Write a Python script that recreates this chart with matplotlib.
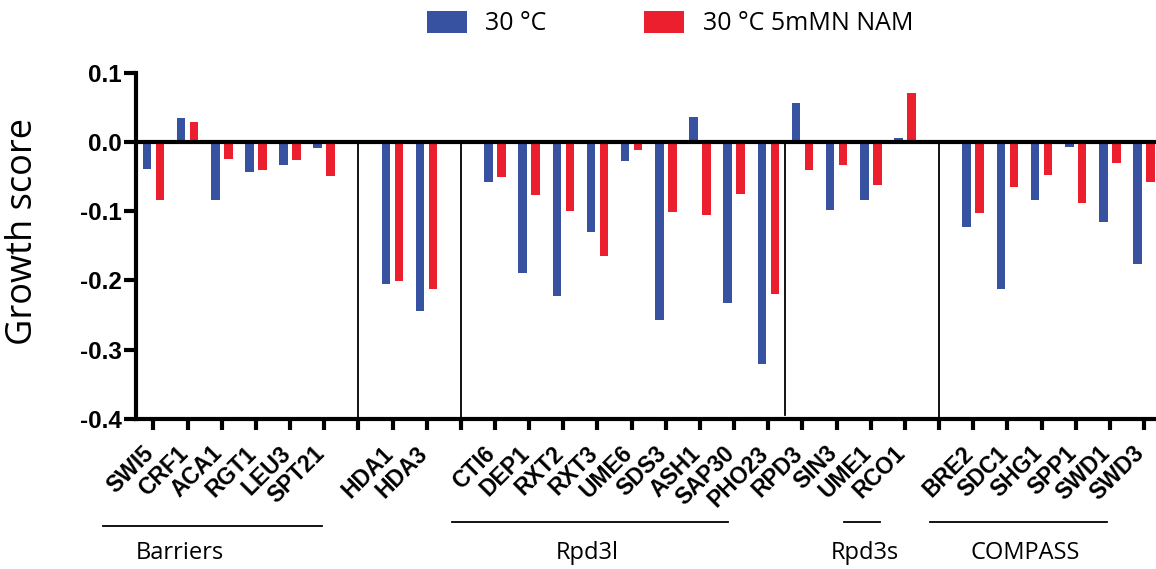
import matplotlib
matplotlib.use("Agg")
import matplotlib.pyplot as plt
from matplotlib.patches import Patch
from matplotlib.lines import Line2D
from matplotlib.transforms import ScaledTranslation
import numpy as np

# ---- data ----
categories = ["SWI5", "CRF1", "ACA1", "RGT1", "LEU3", "SPT21", "",
              "HDA1", "HDA3", "",
              "CTI6", "DEP1", "RXT2", "RXT3", "UME6", "SDS3", "ASH1", "SAP30", "PHO23",
              "RPD3", "SIN3", "UME1", "RCO1", "",
              "BRE2", "SDC1", "SHG1", "SPP1", "SWD1", "SWD3"]
score_30C = [-0.039, 0.035, -0.084, -0.043, -0.033, -0.008, np.nan,
             -0.205, -0.244, np.nan,
             -0.058, -0.189, -0.223, -0.130, -0.028, -0.257, 0.036, -0.232, -0.321,
             0.056, -0.098, -0.084, 0.006, np.nan,
             -0.123, -0.213, -0.084, -0.007, -0.115, -0.176]
score_30C_NAM = [-0.084, 0.029, -0.024, -0.040, -0.026, -0.049, np.nan,
                 -0.201, -0.213, np.nan,
                 -0.050, -0.077, -0.100, -0.165, -0.012, -0.101, -0.106, -0.075, -0.219,
                 -0.040, -0.033, -0.062, 0.071, np.nan,
                 -0.103, -0.065, -0.048, -0.088, -0.030, -0.058]
series_labels = ["30 °C", "30 °C 5mMN NAM"]
separators = [6, 9, 18.5, 23]
groups = ["Barriers", "Rpd3l", "Rpd3s", "COMPASS"]

BLUE = "#3852a2"
RED = "#ec1f2e"

W, H = 1156, 569
fig = plt.figure(figsize=(W / 100, H / 100), dpi=100)
ax = fig.add_axes([136 / W, 1 - 419 / H, 1 - 136 / W, (419 - 72.7) / H])

x = np.arange(len(categories))
bw = 0.25
off = 0.19
ax.bar(x - off, score_30C, width=bw, color=BLUE, zorder=2)
ax.bar(x + off, score_30C_NAM, width=bw, color=RED, zorder=2)

ax.axhline(0, color="black", lw=3, zorder=3)
for s in separators:
    bottom = -0.394 if s == 18.5 else -0.4
    ax.plot([s, s], [0, bottom], color="black", lw=1.3, zorder=1)

ax.set_xlim(-0.51, 29.35)
ax.set_ylim(-0.4, 0.1)
ax.set_yticks([0.1, 0.0, -0.1, -0.2, -0.3, -0.4])
ax.set_yticklabels(["0.1", "0.0", "-0.1", "-0.2", "-0.3", "-0.4"])
ax.set_xticks(x)
ax.set_xticklabels([])
for lab in ax.get_yticklabels():
    lab.set_fontweight("bold")
    lab.set_family("Liberation Sans")
    lab.set_fontsize(17.5)

# rotated category labels anchored at the end of their baseline
lab_tr = ax.get_xaxis_transform() + ScaledTranslation(1.5 / 100, -35.5 / 100, fig.dpi_scale_trans)
for xi, name in zip(x, categories):
    if name:
        ax.text(xi, 0, name, transform=lab_tr, rotation=45, rotation_mode="anchor",
                ha="right", va="baseline", fontweight="bold",
                family="Liberation Sans", fontsize=16.5, clip_on=False)

for side in ["top", "right"]:
    ax.spines[side].set_visible(False)
ax.spines["left"].set_linewidth(3)
ax.spines["bottom"].set_linewidth(3)
ax.tick_params(axis="y", length=9, width=3, pad=1)
ax.tick_params(axis="x", length=8, width=3, pad=8)

fig.text(23 / W, 1 - 231.5 / H, "Growth score", rotation=90, ha="center", va="center",
         family="Open Sans", fontsize=26)

handles = [Patch(facecolor=BLUE, edgecolor="none"), Patch(facecolor=RED, edgecolor="none")]
fig.legend(handles, series_labels, loc="center", bbox_to_anchor=(670 / W, 1 - 23.5 / H),
           ncol=2, frameon=False, prop={"family": "Open Sans", "size": 18},
           handlelength=1.6, handleheight=1.0, handletextpad=0.75, columnspacing=3.9)

# group annotation lines and labels (figure pixel coordinates)
group_lines = [(102.7, 322.3, 526), (451.7, 728.3, 521.7), (844, 880, 521.7), (930, 1106.7, 521.7)]
group_label_x = [179.5, 587.5, 865, 1025]
for (x0, x1, yy), gx, name in zip(group_lines, group_label_x, groups):
    fig.add_artist(Line2D([x0 / W, x1 / W], [1 - yy / H, 1 - yy / H],
                          transform=fig.transFigure, color="black", lw=1.3))
    fig.text(gx / W, 1 - 553 / H, name, ha="center", va="center",
             family="Open Sans", fontsize=17)

fig.savefig("out.png", dpi=100)
